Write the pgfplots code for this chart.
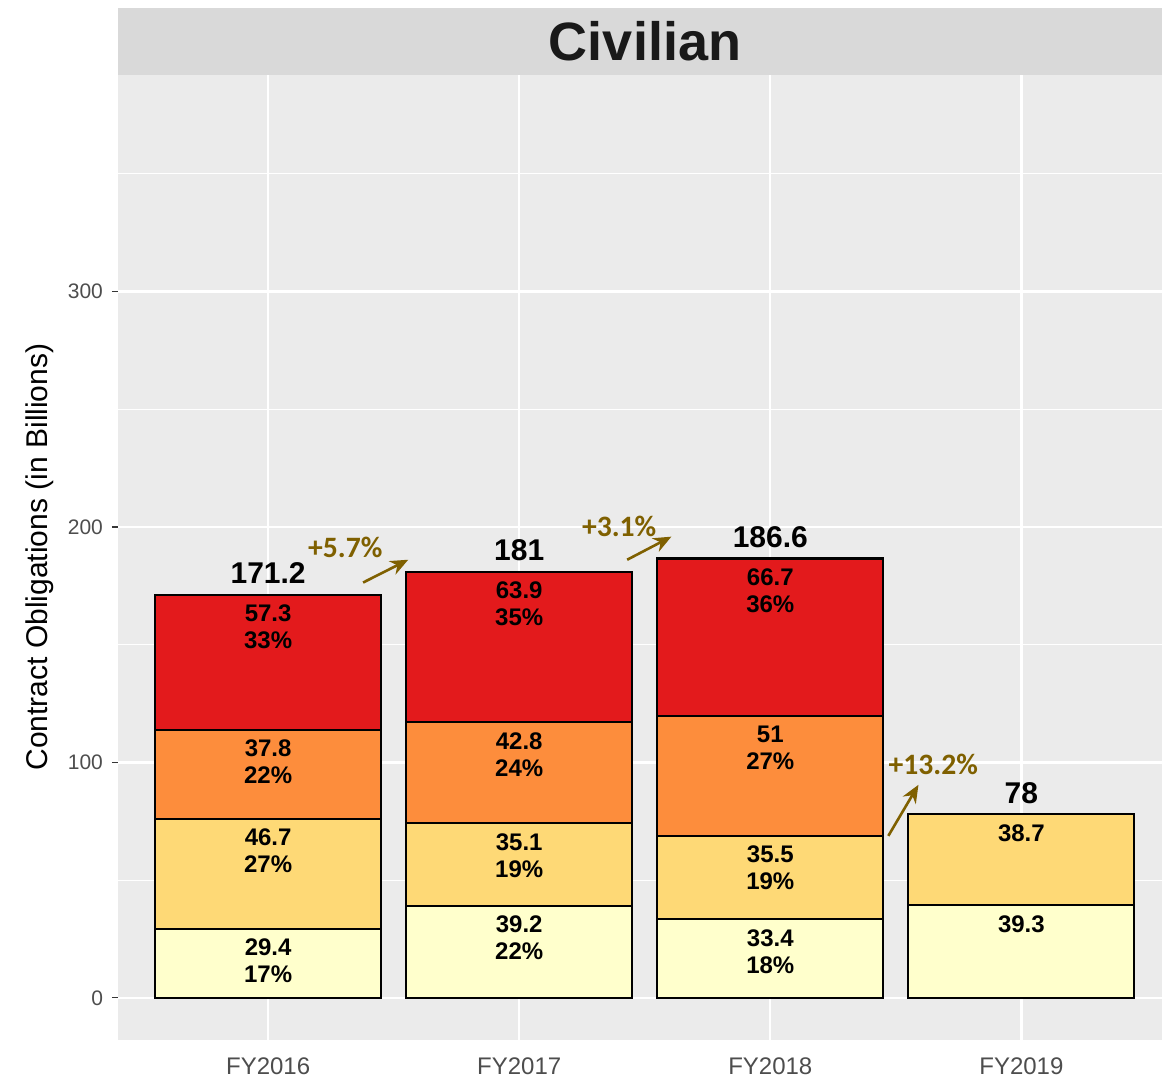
\documentclass[border=0pt]{standalone}
\usepackage{pgfplots}
\pgfplotsset{compat=1.18}
\usepackage{fontspec}
\setmainfont{Liberation Sans}
\newfontfamily\calib{Carlito}
\usetikzlibrary{arrows.meta}
\definecolor{cRed}{HTML}{E31A1C}
\definecolor{cOrange}{HTML}{FD8D3C}
\definecolor{cYellow}{HTML}{FED976}
\definecolor{cPale}{HTML}{FFFFCC}
\definecolor{panel}{HTML}{EBEBEB}
\definecolor{strip}{HTML}{D9D9D9}
\definecolor{olive}{HTML}{7F6000}
\definecolor{tickgrey}{HTML}{4D4D4D}
\begin{document}
\begin{tikzpicture}[
  mysegment/.style={anchor=north, inner sep=0pt, yshift=-5pt, align=center, text=black, font=\fontsize{12}{13.5}\selectfont\bfseries},
  mytotal/.style={anchor=base, inner sep=0pt, yshift=5.5pt, text=black, font=\fontsize{15}{17}\selectfont\bfseries},
  mychg/.style={text=olive, font=\calib\fontsize{14.8}{16}\selectfont\bfseries},
  myarr/.style={draw=olive, line width=1.3pt, -{Stealth[length=9pt,width=7.5pt]}}]
\useasboundingbox (0,0) rectangle (581pt,540pt);
% facet strip
\fill[strip] (59pt,502.5pt) rectangle (581pt,536pt);
\node[font=\fontsize{27}{30}\selectfont\bfseries, text=black!90] at (322.5pt,519.5pt) {Civilian};
\begin{axis}[
  at={(59pt,20pt)}, anchor=south west,
  scale only axis, width=522pt, height=482.5pt,
  xmin=-0.598, xmax=3.56, ymin=-17.9, ymax=392,
  axis background/.style={fill=panel},
  axis line style={draw=none},
  ybar stacked, reverse stacked plots=false, bar width=0.9,
  xtick={0,1,2,3}, xticklabels={FY2016,FY2017,FY2018,FY2019},
  ytick={0,100,200,300}, minor ytick={50,150,250,350},
  grid=both,
  major grid style={white, line width=1.1pt},
  minor grid style={white, line width=0.55pt},
  tick style={draw=tickgrey!70!black, line width=0.6pt},
  major tick length=3pt,
  xtick style={draw=none},
  ytick align=outside, tick pos=left,
  minor tick length=0pt,
  yticklabel style={font=\fontsize{10.5}{12}\selectfont, text=tickgrey, xshift=-1pt},
  xticklabel style={font=\fontsize{12}{14}\selectfont, text=tickgrey, yshift=-5.5pt},
  /pgf/number format/assume math mode=true,
  clip=false,
]
\addplot+[draw=black, line width=1.05pt, fill=cPale] coordinates {(0,29.4) (1,39.2) (2,33.4) (3,39.3)};
\addplot+[draw=black, line width=1.05pt, fill=cYellow] coordinates {(0,46.7) (1,35.1) (2,35.5) (3,38.7)};
\addplot+[draw=black, line width=1.05pt, fill=cOrange] coordinates {(0,37.8) (1,42.8) (2,51.0) (3,0)};
\addplot+[draw=black, line width=1.05pt, fill=cRed] coordinates {(0,57.3) (1,63.9) (2,66.7) (3,0)};

% segment labels
\node[mysegment] at (axis cs:0,29.4) {29.4\\17\%};
\node[mysegment] at (axis cs:0,76.1) {46.7\\27\%};
\node[mysegment] at (axis cs:0,113.9) {37.8\\22\%};
\node[mysegment] at (axis cs:0,171.2) {57.3\\33\%};
\node[mysegment] at (axis cs:1,39.2) {39.2\\22\%};
\node[mysegment] at (axis cs:1,74.3) {35.1\\19\%};
\node[mysegment] at (axis cs:1,117.1) {42.8\\24\%};
\node[mysegment] at (axis cs:1,181.0) {63.9\\35\%};
\node[mysegment] at (axis cs:2,33.4) {33.4\\18\%};
\node[mysegment] at (axis cs:2,68.9) {35.5\\19\%};
\node[mysegment] at (axis cs:2,119.9) {51\\27\%};
\node[mysegment] at (axis cs:2,186.6) {66.7\\36\%};
\node[mysegment] at (axis cs:3,39.3) {39.3};
\node[mysegment] at (axis cs:3,78.0) {38.7};

% totals
\node[mytotal] at (axis cs:0,171.2) {171.2};
\node[mytotal] at (axis cs:1,181.0) {181};
\node[mytotal] at (axis cs:2,186.6) {186.6};
\node[mytotal] at (axis cs:3,78.0) {78};

% change annotations
\draw[myarr] (axis cs:0.378,176.4) -- (axis cs:0.558,186.1);
\node[mychg] at (axis cs:0.307,191.2) {+5.7\%};
\draw[myarr] (axis cs:1.430,186.1) -- (axis cs:1.606,195.9);
\node[mychg] at (axis cs:1.398,200.2) {+3.1\%};
\draw[myarr] (axis cs:2.470,68.8) -- (axis cs:2.590,90.5);
\node[mychg] at (axis cs:2.649,99.0) {+13.2\%};
\end{axis}
\node[rotate=90, font=\fontsize{15}{17}\selectfont] at (20pt,261.5pt) {Contract Obligations (in Billions)};
\end{tikzpicture}
\end{document}
